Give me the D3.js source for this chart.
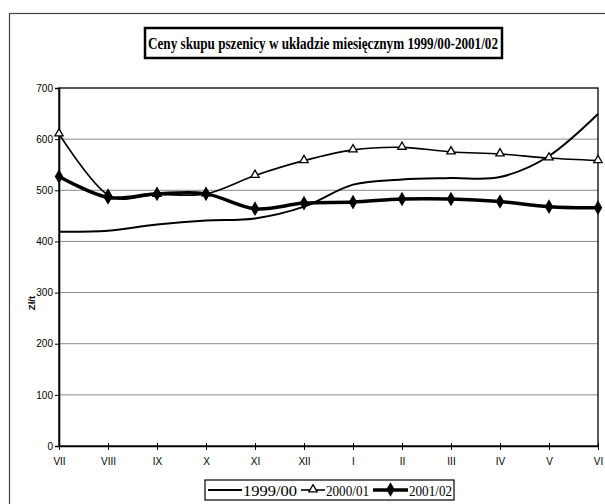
<!DOCTYPE html>
<html>
<head>
<meta charset="utf-8">
<script src="https://cdn.jsdelivr.net/npm/d3@7"></script>
<style>
  body { margin: 0; background: #fff; }
  svg { display: block; }
</style>
</head>
<body>
<div id="chart"></div>
<script>
// months of the marketing year
const months = ["VII", "VIII", "IX", "X", "XI", "XII", "I", "II", "III", "IV", "V", "VI"];
const yTicks = [0, 100, 200, 300, 400, 500, 600, 700];

// zł/t
const s1999 = [419, 421, 433, 441, 445, 468, 511, 521, 524, 526, 567, 649];
const s2000 = [610, 491, 492, 493, 529, 558, 579, 584, 575, 571, 563, 558];
const s2001 = [527, 486, 493, 493, 464, 475, 477, 483, 483, 478, 468, 466];

const seriesNames = ["1999/00", "2000/01", "2001/02"];

const width = 605;
const height = 504;

const svg = d3.select("#chart")
  .append("svg")
  .attr("width", width)
  .attr("height", height);

// outer frame (runs off the right and bottom edges)
svg.append("rect")
  .attr("x", 9.5)
  .attr("y", 13.5)
  .attr("width", 700)
  .attr("height", 600)
  .attr("fill", "none")
  .attr("stroke", "#444")
  .attr("stroke-width", 1.2);

const plot = { left: 59, right: 598, top: 88, bottom: 446 };

const x = d3.scalePoint()
  .domain(months)
  .range([plot.left, plot.right]);

const y = d3.scaleLinear()
  .domain([0, 700])
  .range([plot.bottom, plot.top]);

// gridlines
svg.append("g")
  .selectAll("line")
  .data(yTicks.filter(d => d > 0 && d < 700))
  .join("line")
  .attr("x1", plot.left)
  .attr("x2", plot.right)
  .attr("y1", d => y(d))
  .attr("y2", d => y(d))
  .attr("stroke", "#8a8a8a")
  .attr("stroke-width", 1);

// plot area border
svg.append("rect")
  .attr("x", plot.left)
  .attr("y", plot.top)
  .attr("width", plot.right - plot.left)
  .attr("height", plot.bottom - plot.top)
  .attr("fill", "none")
  .attr("stroke", "#000")
  .attr("stroke-width", 1.3);

// y axis
const yAxis = d3.axisLeft(y)
  .tickValues(yTicks)
  .tickSize(4)
  .tickPadding(2);

const gy = svg.append("g")
  .attr("transform", `translate(${plot.left}, 0)`)
  .call(yAxis);
gy.select(".domain").attr("stroke-width", 1.6);
gy.selectAll("text")
  .attr("font-family", "'Liberation Sans Narrow', 'Liberation Sans', Arial, sans-serif")
  .attr("font-size", 10)
  .attr("fill", "#000");

// x axis
const xAxis = d3.axisBottom(x)
  .tickSizeInner(4)
  .tickSizeOuter(0)
  .tickPadding(8);

const gx = svg.append("g")
  .attr("transform", `translate(0, ${plot.bottom})`)
  .call(xAxis);
gx.select(".domain").attr("stroke-width", 1.6);
gx.selectAll(".tick line").attr("y1", -3);
gx.selectAll("text")
  .attr("font-family", "'Liberation Sans Narrow', 'Liberation Sans', Arial, sans-serif")
  .attr("font-size", 10)
  .attr("fill", "#000");

// y axis title
svg.append("text")
  .attr("transform", `translate(35, 303) rotate(-90)`)
  .attr("text-anchor", "middle")
  .attr("font-family", "'Liberation Sans', Arial, sans-serif")
  .attr("font-weight", "bold")
  .attr("font-size", 9.5)
  .text("Zł/t");

// lines
const line = d3.line()
  .x((d, i) => x(months[i]))
  .y(d => y(d))
  .curve(d3.curveCardinal.tension(0));

svg.append("path")
  .datum(s1999)
  .attr("d", line)
  .attr("fill", "none")
  .attr("stroke", "#000")
  .attr("stroke-width", 2);

svg.append("path")
  .datum(s2000)
  .attr("d", line)
  .attr("fill", "none")
  .attr("stroke", "#000")
  .attr("stroke-width", 1.6);

svg.append("path")
  .datum(s2001)
  .attr("d", line)
  .attr("fill", "none")
  .attr("stroke", "#000")
  .attr("stroke-width", 3.5);

const triangle = d3.symbol().type(d3.symbolTriangle).size(30);
const diamond = d3.symbol().type(d3.symbolDiamond).size(62);

svg.append("g")
  .selectAll("path")
  .data(s2000)
  .join("path")
  .attr("d", triangle)
  .attr("transform", (d, i) => `translate(${x(months[i])}, ${y(d) - 0.5})`)
  .attr("fill", "#fff")
  .attr("stroke", "#000")
  .attr("stroke-width", 1.3);

svg.append("g")
  .selectAll("path")
  .data(s2001)
  .join("path")
  .attr("d", diamond)
  .attr("transform", (d, i) => `translate(${x(months[i])}, ${y(d)})`)
  .attr("fill", "#000");

// title box
svg.append("rect")
  .attr("x", 145)
  .attr("y", 28)
  .attr("width", 357)
  .attr("height", 30)
  .attr("fill", "#fff")
  .attr("stroke", "#000")
  .attr("stroke-width", 2.5);

svg.append("text")
  .attr("x", 148)
  .attr("y", 49)
  .attr("font-family", "'Liberation Serif', 'Times New Roman', serif")
  .attr("font-weight", "bold")
  .attr("font-size", 16)
  .attr("textLength", 350)
  .attr("lengthAdjust", "spacingAndGlyphs")
  .text("Ceny skupu pszenicy w układzie miesięcznym 1999/00-2001/02");

// legend
const legend = svg.append("g");
legend.append("rect")
  .attr("x", 205)
  .attr("y", 480)
  .attr("width", 249)
  .attr("height", 20)
  .attr("fill", "#fff")
  .attr("stroke", "#000")
  .attr("stroke-width", 1.2);

const legendItems = [
  { name: seriesNames[0], x1: 208, x2: 242, w: 2, marker: null },
  { name: seriesNames[1], x1: 301, x2: 325, w: 1.6, marker: triangle },
  { name: seriesNames[2], x1: 373, x2: 408, w: 3.5, marker: diamond }
];

legendItems.forEach(it => {
  legend.append("line")
    .attr("x1", it.x1)
    .attr("x2", it.x2)
    .attr("y1", 490)
    .attr("y2", 490)
    .attr("stroke", "#000")
    .attr("stroke-width", it.w);
  if (it.marker) {
    legend.append("path")
      .attr("d", it.marker)
      .attr("transform", `translate(${(it.x1 + it.x2) / 2}, 489.5)`)
      .attr("fill", it.marker === triangle ? "#fff" : "#000")
      .attr("stroke", it.marker === triangle ? "#000" : "none")
      .attr("stroke-width", 1.3);
  }
  legend.append("text")
    .attr("x", it.x2 + 1)
    .attr("y", 496)
    .attr("font-family", "'Liberation Serif', 'Times New Roman', serif")
    .attr("font-size", 15)
    .attr("textLength", it.name === "1999/00" ? 54 : 43)
    .attr("lengthAdjust", "spacingAndGlyphs")
    .text(it.name);
});
</script>
</body>
</html>
